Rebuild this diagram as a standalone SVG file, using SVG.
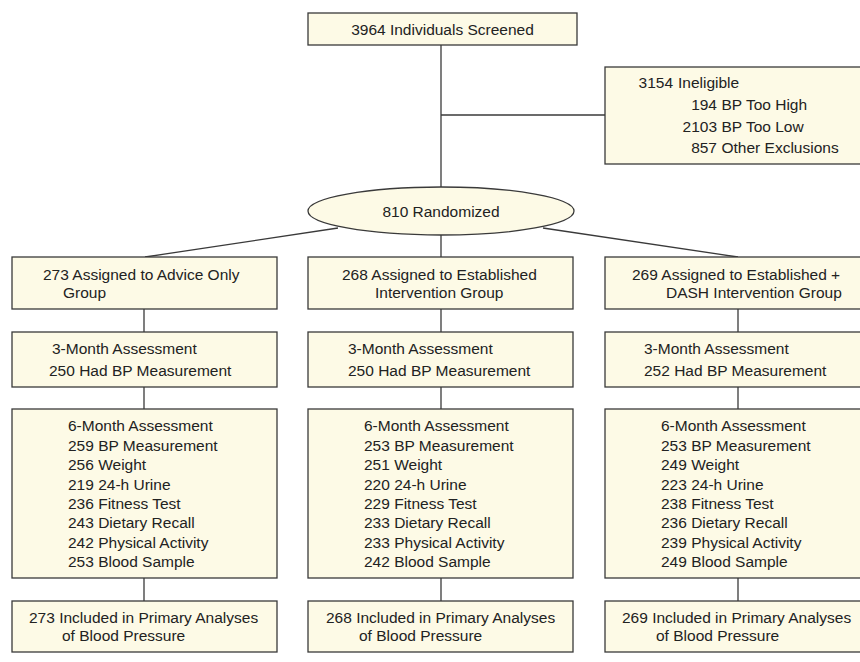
<svg xmlns="http://www.w3.org/2000/svg" width="860" height="662" viewBox="0 0 860 662">
<style>
.box{fill:#fdfae6;stroke:#3a3a3a;stroke-width:1.3}
.t{font-family:"Liberation Sans",Arial,sans-serif;font-size:15.5px;fill:#222}
.e{text-anchor:end}
.c{stroke:#3a3a3a;stroke-width:1.3;fill:none}
</style>
<rect width="860" height="662" fill="#fff"/>
<g id="connectors">
<line class="c" x1="441" y1="45" x2="441" y2="187"/>
<line class="c" x1="441" y1="115" x2="605" y2="115"/>
<line class="c" x1="338" y1="228" x2="145" y2="257"/>
<line class="c" x1="441" y1="235" x2="441" y2="257"/>
<line class="c" x1="543" y1="228" x2="738" y2="257"/>
<line class="c" x1="144" y1="309" x2="144" y2="332"/>
<line class="c" x1="441" y1="309" x2="441" y2="332"/>
<line class="c" x1="738" y1="309" x2="738" y2="332"/>
<line class="c" x1="144" y1="387" x2="144" y2="409"/>
<line class="c" x1="441" y1="387" x2="441" y2="409"/>
<line class="c" x1="738" y1="387" x2="738" y2="409"/>
<line class="c" x1="144" y1="578" x2="144" y2="601"/>
<line class="c" x1="441" y1="578" x2="441" y2="601"/>
<line class="c" x1="738" y1="578" x2="738" y2="601"/>
</g>
<g id="screened">
<rect class="box" x="308" y="13" width="269" height="32"/>
<text class="t" x="442.5" y="35" text-anchor="middle">3964 Individuals Screened</text>
</g>
<g id="ineligible">
<rect class="box" x="605" y="67" width="266" height="97"/>
<text class="t e" x="673" y="88">3154</text><text class="t" x="678" y="88">Ineligible</text>
<text class="t e" x="717" y="110">194</text><text class="t" x="721.5" y="110">BP Too High</text>
<text class="t e" x="717" y="132">2103</text><text class="t" x="721.5" y="132">BP Too Low</text>
<text class="t e" x="717" y="153">857</text><text class="t" x="721.5" y="153">Other Exclusions</text>
</g>
<g id="randomized">
<ellipse class="box" cx="441" cy="211" rx="133" ry="24"/>
<text class="t" x="441" y="216.5" text-anchor="middle">810 Randomized</text>
</g>
<g id="advice">
<rect class="box" x="12" y="257" width="265" height="52"/>
<text class="t" x="43" y="280">273 Assigned to Advice Only</text>
<text class="t" x="63" y="298">Group</text>
</g>
<g id="established">
<rect class="box" x="308" y="257" width="265" height="52"/>
<text class="t" x="342" y="280">268 Assigned to Established</text>
<text class="t" x="375" y="298">Intervention Group</text>
</g>
<g id="dash">
<rect class="box" x="605" y="257" width="266" height="52"/>
<text class="t" x="632" y="280">269 Assigned to Established +</text>
<text class="t" x="666" y="298">DASH Intervention Group</text>
</g>
<g id="m3-advice">
<rect class="box" x="12" y="332" width="265" height="55"/>
<text class="t" x="52" y="354">3-Month Assessment</text>
<text class="t" x="49" y="376">250 Had BP Measurement</text>
</g>
<g id="m3-established">
<rect class="box" x="308" y="332" width="265" height="55"/>
<text class="t" x="348" y="354">3-Month Assessment</text>
<text class="t" x="348" y="376">250 Had BP Measurement</text>
</g>
<g id="m3-dash">
<rect class="box" x="605" y="332" width="266" height="55"/>
<text class="t" x="644" y="354">3-Month Assessment</text>
<text class="t" x="644" y="376">252 Had BP Measurement</text>
</g>
<g id="m6-advice">
<rect class="box" x="12" y="409" width="265" height="169"/>
<text class="t" x="68" y="431">6-Month Assessment</text>
<text class="t" x="68" y="451">259 BP Measurement</text>
<text class="t" x="68" y="470">256 Weight</text>
<text class="t" x="68" y="489.5">219 24-h Urine</text>
<text class="t" x="68" y="509">236 Fitness Test</text>
<text class="t" x="68" y="528">243 Dietary Recall</text>
<text class="t" x="68" y="547.5">242 Physical Activity</text>
<text class="t" x="68" y="567">253 Blood Sample</text>
</g>
<g id="m6-established">
<rect class="box" x="308" y="409" width="265" height="169"/>
<text class="t" x="364" y="431">6-Month Assessment</text>
<text class="t" x="364" y="451">253 BP Measurement</text>
<text class="t" x="364" y="470">251 Weight</text>
<text class="t" x="364" y="489.5">220 24-h Urine</text>
<text class="t" x="364" y="509">229 Fitness Test</text>
<text class="t" x="364" y="528">233 Dietary Recall</text>
<text class="t" x="364" y="547.5">233 Physical Activity</text>
<text class="t" x="364" y="567">242 Blood Sample</text>
</g>
<g id="m6-dash">
<rect class="box" x="605" y="409" width="266" height="169"/>
<text class="t" x="661" y="431">6-Month Assessment</text>
<text class="t" x="661" y="451">253 BP Measurement</text>
<text class="t" x="661" y="470">249 Weight</text>
<text class="t" x="661" y="489.5">223 24-h Urine</text>
<text class="t" x="661" y="509">238 Fitness Test</text>
<text class="t" x="661" y="528">236 Dietary Recall</text>
<text class="t" x="661" y="547.5">239 Physical Activity</text>
<text class="t" x="661" y="567">249 Blood Sample</text>
</g>
<g id="final-advice">
<rect class="box" x="12" y="601" width="265" height="51"/>
<text class="t" x="29" y="623">273 Included in Primary Analyses</text>
<text class="t" x="62" y="641">of Blood Pressure</text>
</g>
<g id="final-established">
<rect class="box" x="308" y="601" width="265" height="51"/>
<text class="t" x="326" y="623">268 Included in Primary Analyses</text>
<text class="t" x="359" y="641">of Blood Pressure</text>
</g>
<g id="final-dash">
<rect class="box" x="605" y="601" width="266" height="51"/>
<text class="t" x="622" y="623">269 Included in Primary Analyses</text>
<text class="t" x="656" y="641">of Blood Pressure</text>
</g>
</svg>
